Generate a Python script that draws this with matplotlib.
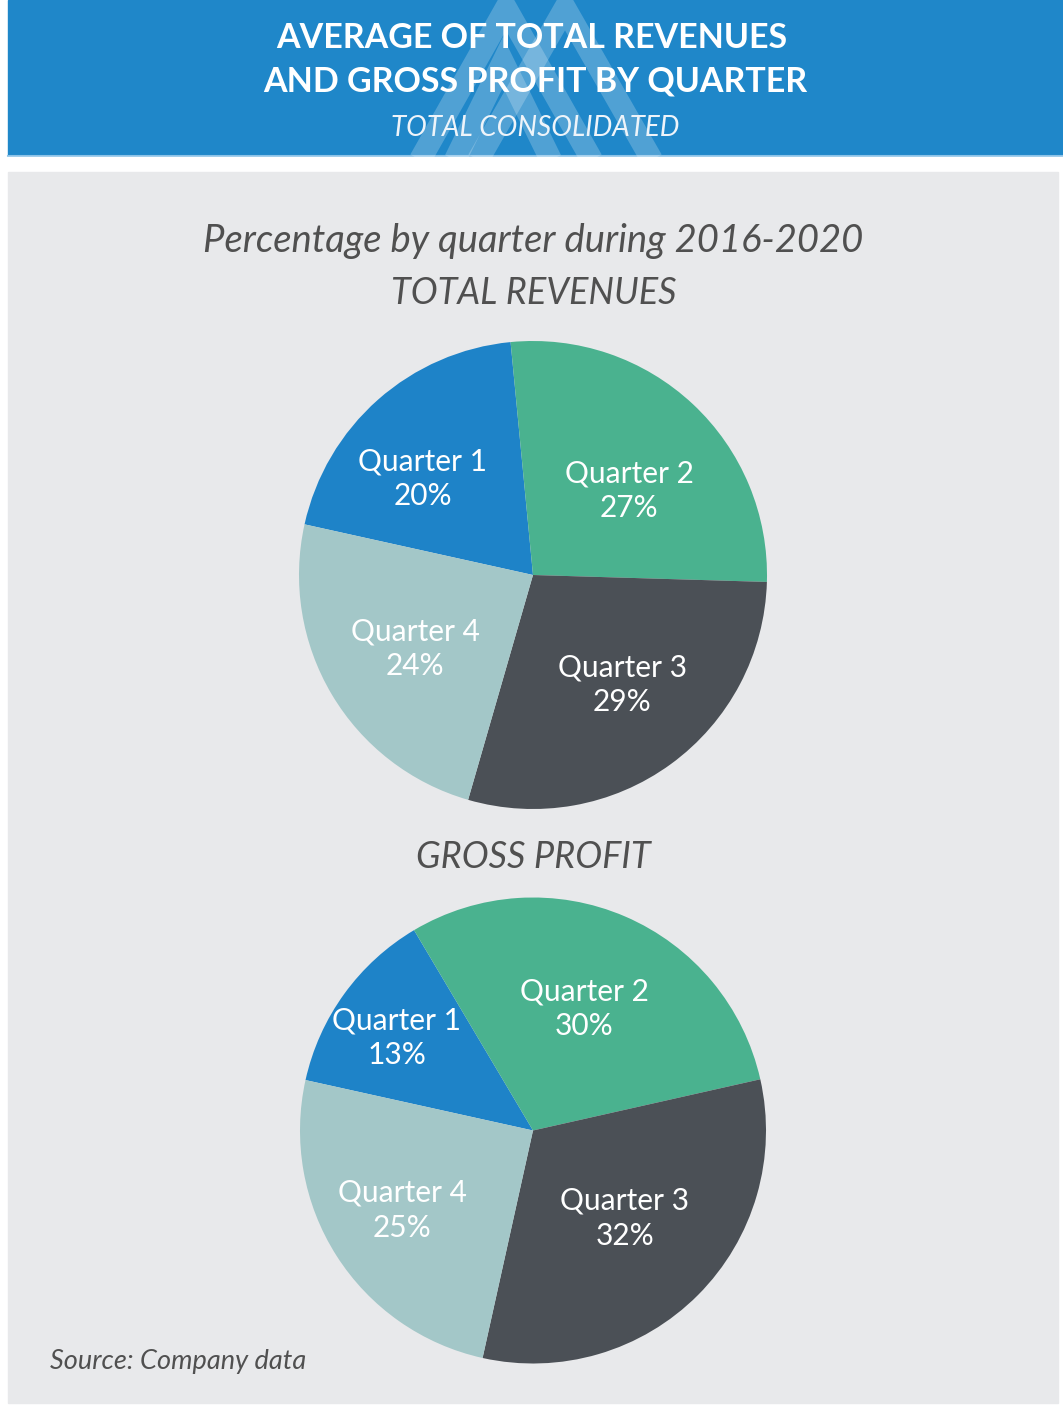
import numpy as np
import matplotlib.pyplot as plt
from matplotlib.patches import Rectangle

quarters = ['Quarter 1', 'Quarter 2', 'Quarter 3', 'Quarter 4']
revenues = [20, 27, 29, 24]
gross_profit = [13, 30, 32, 25]

colors = ['#1e83c8', '#4ab28f', '#4b5056', '#a3c7c8']
blue = '#1f87c9'
panel = '#e8e9eb'
txt = '#505050'

W, H = 1063, 1407
fig = plt.figure(figsize=(W / 100, H / 100), dpi=100)
fig.patch.set_facecolor('white')

bg = fig.add_axes([0, 0, 1, 1])
bg.set_xlim(0, W)
bg.set_ylim(H, 0)
bg.axis('off')

# header band + watermark
bg.add_patch(Rectangle((8, 0), W - 8, 155, color=blue, zorder=1))
bg.plot([8, W], [155.5, 155.5], color='#8cc3e8', lw=1.5, zorder=2)
for xs, ys in [([420, 506, 592], [160, 8, 160]),
               ([478, 565, 652], [160, 8, 160]),
               ([455, 503, 551], [160, 62, 160])]:
    bg.plot(xs, ys, color='white', alpha=0.22, lw=16, solid_joinstyle='miter',
            solid_capstyle='butt', zorder=2)
bg.add_patch(Rectangle((0, 156.5), W, 30, color='white', zorder=3))

bg.text(532, 38, 'AVERAGE OF TOTAL REVENUES', ha='center', va='center',
        color='white', fontsize=24.5, fontweight='bold', family='Lato', zorder=4)
bg.text(535, 81, 'AND GROSS PROFIT BY QUARTER', ha='center', va='center',
        color='white', fontsize=24.5, fontweight='bold', family='Lato', zorder=4)
bg.text(535, 128, 'TOTAL CONSOLIDATED', ha='center', va='center',
        color='#eef4fa', fontsize=20, style='italic', family='Lato', zorder=4)

# grey panel
bg.add_patch(Rectangle((8, 172), 1050, 1231, color=panel, zorder=3))

bg.text(533, 241, 'Percentage by quarter during 2016-2020', ha='center', va='center',
        color=txt, fontsize=27.5, style='italic', family='Lato', zorder=4)
bg.text(534, 294, 'TOTAL REVENUES', ha='center', va='center',
        color=txt, fontsize=26, style='italic', family='Lato', zorder=4)
bg.text(533, 858, 'GROSS PROFIT', ha='center', va='center',
        color=txt, fontsize=26, style='italic', family='Lato', zorder=4)
bg.text(50, 1361, 'Source: Company data', ha='left', va='center',
        color=txt, fontsize=19.5, style='italic', family='Lato', zorder=4)


def draw_pie(values, cx, cy, r, label_r, label_shift):
    ax = fig.add_axes([(cx - r) / W, (H - cy - r) / H, 2 * r / W, 2 * r / H])
    labels = [f'{q}\n{v}%' for q, v in zip(quarters, values)]
    wedges, texts = ax.pie(values, labels=labels, colors=colors, startangle=167.5,
                           counterclock=False, labeldistance=0.6,
                           wedgeprops=dict(linewidth=0),
                           textprops=dict(color='white', fontsize=21.5, family='Lato',
                                          ha='center', va='center', linespacing=1.3))
    for w, t, lr, sh in zip(wedges, texts, label_r, label_shift):
        ang = np.deg2rad((w.theta1 + w.theta2) / 2 + sh)
        t.set_position((lr * np.cos(ang), lr * np.sin(ang)))
        t.set_horizontalalignment('center')
    ax.set_xlim(-1, 1)
    ax.set_ylim(-1, 1)
    ax.set_aspect('equal')
    ax.axis('off')
    return ax


draw_pie(revenues, 533, 575, 234, [0.624, 0.545, 0.605, 0.595], [7.4, -5.7, 2.9, 1.4])
draw_pie(gross_profit, 533, 1130.5, 233, [0.706, 0.566, 0.545, 0.658], [1.7, 0.5, 1.3, -1.2])

fig.savefig('out.png', dpi=100, facecolor=fig.get_facecolor())
